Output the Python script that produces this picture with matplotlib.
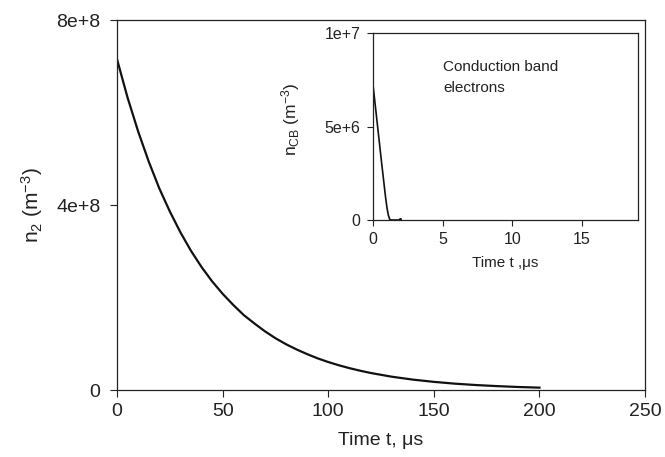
import matplotlib
matplotlib.use("Agg")
import matplotlib.pyplot as plt

plt.rcParams['font.family'] = ['Liberation Sans', 'DejaVu Sans']
plt.rcParams['mathtext.fontset'] = 'custom'
plt.rcParams['mathtext.rm'] = 'Liberation Sans'
plt.rcParams['mathtext.it'] = 'Liberation Sans'

# main curve: n2 vs time (us)
t_main = [0, 5, 10, 15, 20, 25, 30, 35, 40, 45, 50, 55, 60, 65, 70, 75, 80, 85, 90, 95, 100,
          105, 110, 115, 120, 130, 140, 150, 160, 170, 180, 190, 200]
n2 = [7.15e8, 6.32e8, 5.59e8, 4.94e8, 4.36e8, 3.86e8, 3.41e8, 3.01e8, 2.66e8, 2.35e8, 2.08e8,
      1.84e8, 1.62e8, 1.44e8, 1.27e8, 1.12e8, 0.99e8, 0.877e8, 0.776e8, 0.684e8, 0.605e8,
      0.535e8, 0.473e8, 0.418e8, 0.369e8, 0.288e8, 0.225e8, 0.176e8, 0.137e8, 0.107e8,
      0.084e8, 0.065e8, 0.051e8]

# inset: conduction band electrons
t_cb = [0, 0.2, 0.4, 0.6, 0.8, 0.9, 1.0, 1.1, 1.2, 1.3, 2.0]
n_cb = [7.2e6, 5.85e6, 4.5e6, 3.15e6, 1.85e6, 1.2e6, 0.65e6, 0.25e6, 0.03e6, 0, 0]
dot_t = [1.9]
dot_n = [0.06e6]

main_xticks = [0, 50, 100, 150, 200, 250]
main_yticks = [0, 4e8, 8e8]
main_ylabels = ['0', '4e+8', '8e+8']
inset_xticks = [0, 5, 10, 15]
inset_yticks = [0, 5e6, 1e7]
inset_ylabels = ['0', '5e+6', '1e+7']

txt = '#222222'
fig = plt.figure(figsize=(6.65, 4.57), dpi=100)

ax = fig.add_axes([0.176, 0.1466, 0.794, 0.8096])
ax.plot(t_main, n2, color='#111111', lw=1.6, solid_joinstyle='round')
ax.set_xlim(0, 250)
ax.set_ylim(0, 8e8)
ax.set_xticks(main_xticks)
ax.set_yticks(main_yticks)
ax.set_yticklabels(main_ylabels)
ax.tick_params(direction='out', length=5, width=0.8, labelsize=14, colors=txt, pad=4)
ax.tick_params(axis='y', pad=7)
ax.set_xlabel('Time t, \u03bcs', fontsize=14, color=txt, labelpad=9)
ax.set_ylabel(r'n$_2$ (m$^{-3}$)', fontsize=15, color=txt, labelpad=8)
for s in ax.spines.values():
    s.set_linewidth(0.9)
    s.set_color('#222222')

ins = fig.add_axes([0.561, 0.5186, 0.398, 0.409])
ins.plot(t_cb, n_cb, color='#111111', lw=1.2, solid_joinstyle='round')
ins.plot(dot_t, dot_n, 'o', color='#111111', ms=1.2)
ins.set_xlim(0, 19)
ins.set_ylim(0, 1e7)
ins.set_xticks(inset_xticks)
ins.set_yticks(inset_yticks)
ins.set_yticklabels(inset_ylabels)
ins.tick_params(direction='out', length=4, width=0.8, labelsize=11.5, colors=txt, pad=5)
ins.set_xlabel('Time t ,\u03bcs', fontsize=11, color=txt, labelpad=6)
ins.set_ylabel(r'n$_{\mathrm{CB}}$ (m$^{-3}$)', fontsize=12.5, color=txt)
ins.yaxis.set_label_coords(-0.27, 0.54)
ins.text(0.264, 0.855, 'Conduction band\nelectrons', transform=ins.transAxes,
         fontsize=11, color=txt, va='top', ha='left', linespacing=1.65)
for s in ins.spines.values():
    s.set_linewidth(0.9)
    s.set_color('#222222')

fig.savefig('out.png', dpi=100)
